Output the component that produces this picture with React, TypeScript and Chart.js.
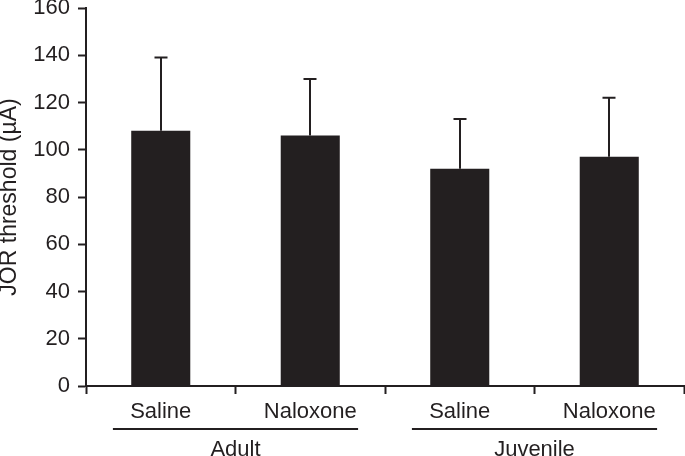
import React, { useEffect, useRef } from 'react';
import { Chart, registerables } from 'chart.js';

Chart.register(...registerables);

const categories = ['Saline', 'Naloxone', 'Saline', 'Naloxone'];
const groupNames = ['Adult', 'Juvenile'];
const groupFirst = [0, 2];
const groupLast = [1, 3];
const means = [108, 106, 92, 97];
const upperErrors = [139, 130, 113, 122];
const yMin = 0;
const yMax = 160;
const yStep = 20;
const yTitle = 'JOR threshold (µA)';

const INK = '#231f20';
const FONT = '"Liberation Sans", Arial, Helvetica, sans-serif';

const errorBarPlugin = {
  id: 'errorBars',
  afterDatasetsDraw(chart: any) {
    const meta = chart.getDatasetMeta(0);
    const yScale = chart.scales.y;
    const ctx = chart.ctx;
    ctx.save();
    ctx.strokeStyle = INK;
    ctx.lineWidth = 2;
    meta.data.forEach((el: any, i: number) => {
      const x = Math.round(el.x);
      const yBar = el.y;
      const yTop = yScale.getPixelForValue(upperErrors[i]);
      ctx.beginPath();
      ctx.moveTo(x, yBar);
      ctx.lineTo(x, yTop);
      ctx.moveTo(x - 6.5, yTop);
      ctx.lineTo(x + 6.5, yTop);
      ctx.stroke();
    });
    ctx.restore();
  },
};

const groupPlugin = {
  id: 'groupLabels',
  afterDraw(chart: any) {
    const xScale = chart.scales.x;
    const ctx = chart.ctx;
    const catW = (xScale.right - xScale.left) / categories.length;
    const half = catW * 0.32;
    ctx.save();
    ctx.strokeStyle = INK;
    ctx.fillStyle = INK;
    ctx.lineWidth = 2;
    ctx.font = `22px ${FONT}`;
    ctx.textAlign = 'center';
    ctx.textBaseline = 'alphabetic';
    groupNames.forEach((name, g) => {
      const x0 = xScale.getPixelForValue(groupFirst[g]) - half;
      const x1 = xScale.getPixelForValue(groupLast[g]) + half;
      ctx.beginPath();
      ctx.moveTo(x0, 429);
      ctx.lineTo(x1, 429);
      ctx.stroke();
      ctx.fillText(name, (x0 + x1) / 2, 455.5);
    });
    ctx.restore();
  },
};

export default function App() {
  const ref = useRef<HTMLCanvasElement>(null);
  useEffect(() => {
    if (!ref.current) return;
    const chart = new Chart(ref.current, {
      type: 'bar',
      data: {
        labels: categories,
        datasets: [
          {
            data: means,
            backgroundColor: INK,
            borderWidth: 0,
            barPercentage: 0.395,
            categoryPercentage: 1,
          },
        ],
      },
      options: {
        responsive: false,
        animation: false,
        layout: { padding: { top: 8, right: 1, left: 0, bottom: 0 } },
        plugins: { legend: { display: false }, tooltip: { enabled: false } },
        scales: {
          x: {
            offset: true,
            grid: {
              offset: true,
              drawOnChartArea: false,
              drawTicks: true,
              tickLength: 8,
              tickWidth: 2,
              color: INK,
            },
            border: { display: true, color: INK, width: 2 },
            ticks: {
              color: INK,
              font: { family: FONT, size: 22 },
              padding: 5,
              maxRotation: 0,
              autoSkip: false,
            },
            afterFit(scale: any) {
              scale.height = 70;
              scale.paddingLeft = 0;
              scale.paddingRight = 0;
            },
          },
          y: {
            min: yMin,
            max: yMax,
            grid: {
              drawOnChartArea: false,
              drawTicks: true,
              tickLength: 8,
              tickWidth: 2,
              color: INK,
            },
            border: { display: true, color: INK, width: 2 },
            ticks: {
              stepSize: yStep,
              color: INK,
              font: { family: FONT, size: 22 },
              padding: 8,
            },
            title: {
              display: true,
              text: yTitle,
              color: INK,
              font: { family: FONT, size: 23, lineHeight: 1 },
              padding: { top: -1.5, bottom: 0 },
            },
            afterFit(scale: any) {
              scale.width = 86;
              scale.paddingTop = 0;
              scale.paddingBottom = 0;
            },
          },
        },
      },
      plugins: [errorBarPlugin, groupPlugin],
    });
    return () => chart.destroy();
  }, []);
  return (
    <div style={{ position: 'absolute', left: 0, top: 0, width: 685, height: 456, background: '#fff' }}>
      <canvas ref={ref} width={685} height={456} style={{ display: 'block' }} />
    </div>
  );
}
